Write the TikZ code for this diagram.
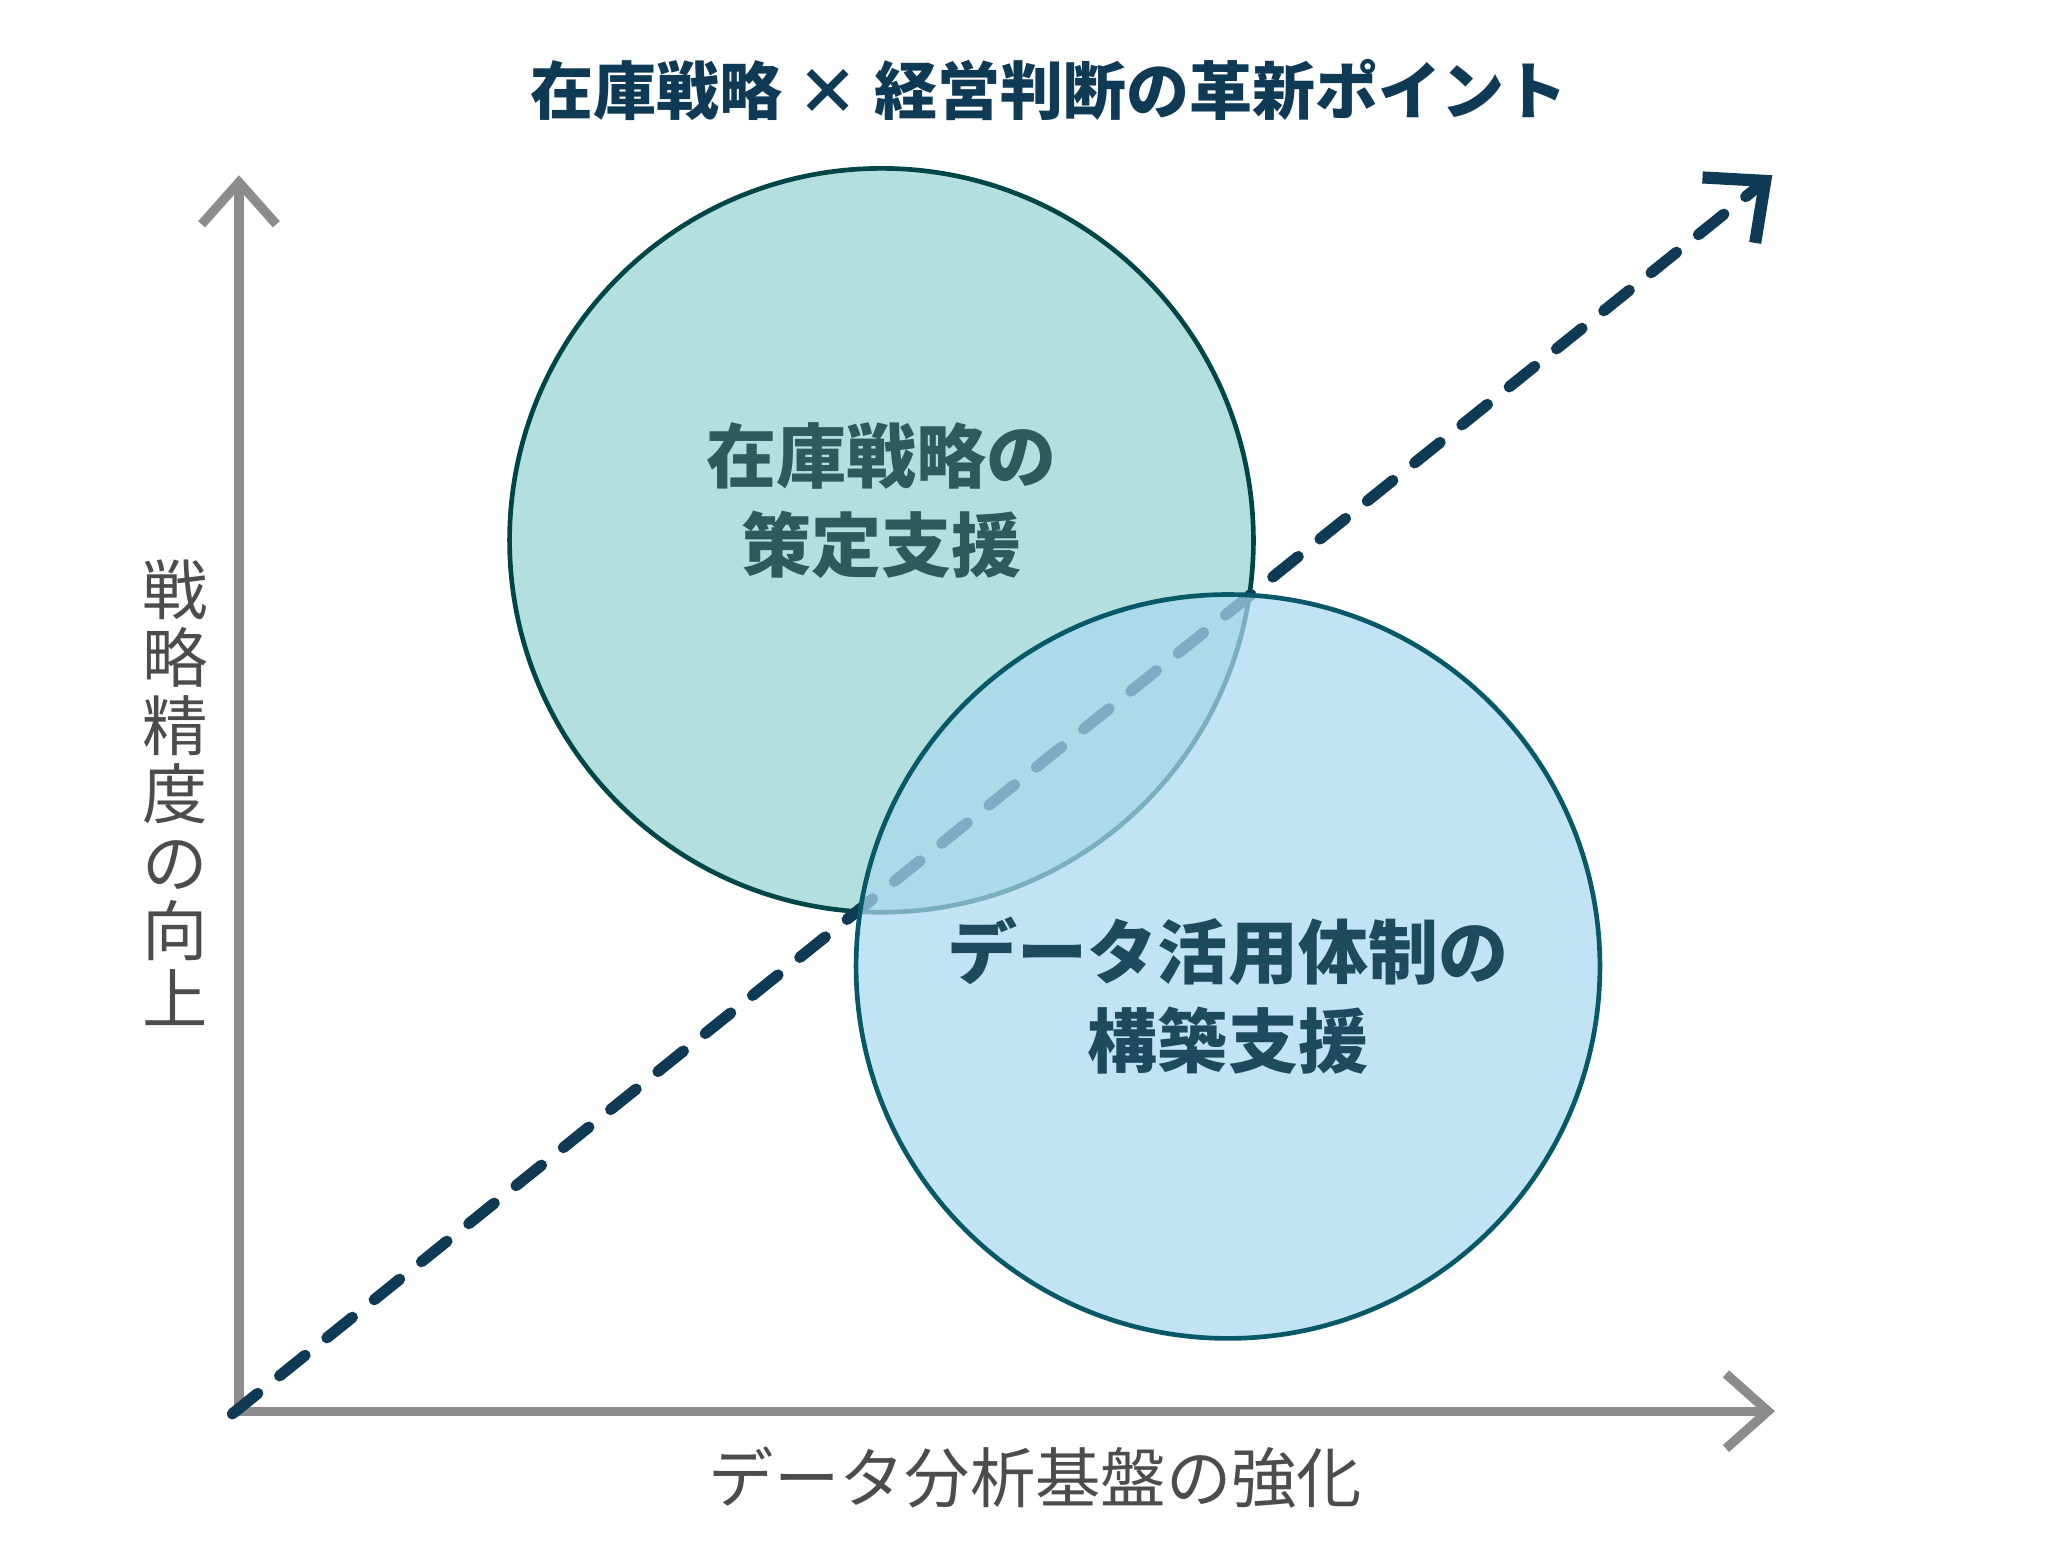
\documentclass[tikz,border=0pt]{standalone}
\usepackage{fontspec}
\newfontfamily\cjk{Noto Sans CJK JP}
\usetikzlibrary{arrows.meta}
\definecolor{navy}{HTML}{0E3A55}
\definecolor{axgray}{HTML}{8C8C8C}
\definecolor{cA}{HTML}{B3E0DF}
\definecolor{cB}{HTML}{A9D8EE}
\definecolor{tA}{HTML}{2D5A5A}
\definecolor{tB}{HTML}{1E4A5E}
\tikzset{
  axis/.style={draw=axgray,line width=2pt,-{Straight Barb[length=9pt,width=16pt,line width=2pt]}},
  trend/.style={draw=navy,line width=2.4pt,line cap=round,dash pattern=on 7pt off 6pt,-{Straight Barb[length=10pt,width=18pt,line width=2.6pt]}},
  bubble/.style={circle,minimum size=5.6cm,inner sep=0pt,line width=1pt},
  ctext/.style={font=\cjk\bfseries\fontsize{15}{19}\selectfont,align=center},
  alabel/.style={font=\cjk\fontsize{14}{14.6}\selectfont,text=black!70}
}
\begin{document}
\begin{tikzpicture}[x=0.01cm,y=-0.01cm]
\useasboundingbox (0,0) rectangle (1560,1173);
\node[font=\cjk\bfseries\fontsize{13.5}{16}\selectfont,text=navy] (title) at (790,68) {在庫戦略 × 経営判断の革新ポイント};
\coordinate (o) at (180,1063);
\coordinate (yt) at (180,132);
\coordinate (xt) at (1337,1063);
\draw[axis] (o) -- (yt);
\draw[axis] (175,1063) -- (xt);
\node[bubble,fill=cA,draw=teal!55!black] (c1) at (664,407) {};
\coordinate (s) at (175,1065);
\coordinate (e) at (1335,132);
\draw[trend] (s) -- (e);
\node[bubble,fill=cB,fill opacity=0.72,draw=teal!45!navy] (c2) at (925,728) {};
\node[ctext,text=tA] (t1) at (664,377) {在庫戦略の\\策定支援};
\node[ctext,text=tB] (t2) at (925,750) {データ活用体制の\\構築支援};
\node[alabel,align=center,text width=1em] (yl) at (125,597) {戦\\略\\精\\度\\の\\向\\上};
\node[alabel] (xl) at (780,1113) {データ分析基盤の強化};
\end{tikzpicture}
\end{document}
